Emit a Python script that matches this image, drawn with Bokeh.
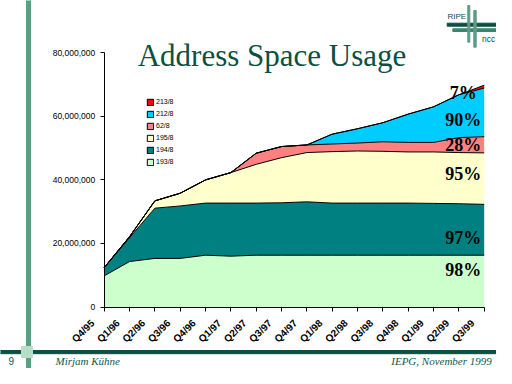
import math
from bokeh.plotting import figure
from bokeh.models import Range1d, FixedTicker, NumeralTickFormatter, Legend, LegendItem, ColumnDataSource
from bokeh.core.properties import value
from bokeh.embed import file_html
from bokeh.resources import INLINE

# ---------------- data ----------------
quarters = ["Q4/95", "Q1/96", "Q2/96", "Q3/96", "Q4/96", "Q1/97", "Q2/97", "Q3/97",
            "Q4/97", "Q1/98", "Q2/98", "Q3/98", "Q4/98", "Q1/99", "Q2/99", "Q3/99"]
net193 = [9800000, 14300000, 15300000, 15300000, 16300000, 16000000, 16300000, 16300000,
          16300000, 16300000, 16300000, 16300000, 16300000, 16300000, 16300000, 16300000]
net194 = [2600000, 7500000, 15800000, 16500000, 16400000, 16700000, 16400000, 16500000,
          16800000, 16400000, 16400000, 16400000, 16400000, 16300000, 16200000, 16000000]
net195 = [0, 300000, 2300000, 4000000, 7300000, 9600000, 12200000, 14200000,
          15500000, 16200000, 16400000, 16300000, 16100000, 16200000, 16100000, 16200000]
net62 = [0, 0, 0, 0, 0, 0, 3500000, 3500000,
         2400000, 2400000, 2500000, 3000000, 3000000, 3000000, 4700000, 5100000]
net212 = [0, 0, 0, 0, 0, 0, 0, 0,
          0, 3100000, 4500000, 6000000, 8900000, 11200000, 13500000, 15300000]
net213 = [0, 0, 0, 0, 0, 0, 0, 0,
          0, 0, 0, 0, 0, 0, 0, 900000]
series_names = ["193/8", "194/8", "195/8", "62/8", "212/8", "213/8"]
series_colors = ["#CCFFCC", "#008080", "#FFFFCC", "#FF8080", "#00CCFF", "#FF0000"]
pct_labels = ["98%", "97%", "95%", "28%", "90%", "7%"]
pct_y = [11800000, 21700000, 41700000, 51000000, 59000000, 67500000]
y_ticks = [0, 20000000, 40000000, 60000000, 80000000]

# ---------------- layout ----------------
W, H = 496, 368
X0, X1 = 103.7, 483.7     # canvas px of first / last category
Y0, YT = 306.5, 52.3      # canvas px of 0 and of top tick
n = len(quarters)
ymax = y_ticks[-1]
ppx = (X1 - X0) / (n - 1)
ppy = (Y0 - YT) / ymax

p = figure(width=W, height=H, output_backend="svg", toolbar_location=None,
           x_range=Range1d(-X0 / ppx, (n - 1) + (W - X1) / ppx),
           y_range=Range1d(-(H - Y0) / ppy, ymax + YT / ppy),
           min_border=0)
p.min_border_left = p.min_border_right = p.min_border_top = p.min_border_bottom = 0
p.outline_line_color = None
p.grid.visible = False
p.background_fill_color = "white"
p.border_fill_color = "white"
p.extra_x_ranges = {"px": Range1d(0, W)}
p.extra_y_ranges = {"py": Range1d(H, 0)}

GREEN_D = "#0B5042"
GREEN_M = "#5E9C86"
GREEN_L = "#B5E0C6"
TEXT_G = "#0B5A4E"

# slide decorations
p.quad(left=[26], right=[30], top=[-10], bottom=[H + 10], color=GREEN_M, x_range_name="px", y_range_name="py")
p.quad(left=[-5], right=[W + 5], top=[350], bottom=[353.2], color=GREEN_D, x_range_name="px", y_range_name="py")
p.quad(left=[21], right=[32], top=[346], bottom=[357], color=GREEN_L, x_range_name="px", y_range_name="py")
# logo
p.quad(left=[446.7], right=[497.3], top=[22.7], bottom=[25.7], color=GREEN_D, x_range_name="px", y_range_name="py")
p.quad(left=[452.3], right=[502.3], top=[28.3], bottom=[31.0], color="#3F8470", x_range_name="px", y_range_name="py")
p.quad(left=[467.3], right=[469.3], top=[5], bottom=[41.7], color=GREEN_M, x_range_name="px", y_range_name="py")
p.quad(left=[473.3], right=[475.7], top=[10], bottom=[46.7], color=GREEN_M, x_range_name="px", y_range_name="py")
p.text(x=[447], y=[16], text=["RIPE"], x_range_name="px", y_range_name="py",
       text_font=value("Liberation Sans"), text_font_size="8px", text_color=GREEN_D,
       text_baseline="middle", text_align="left")
p.text(x=[481.5], y=[38.3], text=["ncc"], x_range_name="px", y_range_name="py",
       text_font=value("Liberation Sans"), text_font_size="8.5px", text_color=GREEN_D,
       text_baseline="middle", text_align="left")
# title
p.text(x=[271.5], y=[54.5], text=["Address Space Usage"], x_range_name="px", y_range_name="py",
       text_font=value("Liberation Serif"), text_font_size="31px", text_color=GREEN_D,
       text_baseline="middle", text_align="center")
# footer
p.text(x=[8], y=[360.5], text=["9"], x_range_name="px", y_range_name="py",
       text_font=value("Liberation Sans"), text_font_size="10px", text_color=TEXT_G,
       text_baseline="middle", text_align="left")
p.text(x=[55], y=[360.5], text=["Mirjam Kühne"], x_range_name="px", y_range_name="py",
       text_font=value("Liberation Serif"), text_font_size="11px", text_font_style="italic",
       text_color=TEXT_G, text_baseline="middle", text_align="left")
p.text(x=[494], y=[360.5], text=["IEPG,  November 1999"], x_range_name="px", y_range_name="py",
       text_font=value("Liberation Serif"), text_font_size="11px", text_font_style="italic",
       text_color=TEXT_G, text_baseline="middle", text_align="right")

# ---------------- chart ----------------
src = ColumnDataSource(dict(x=list(range(n)), s193=net193, s194=net194, s195=net195,
                            s62=net62, s212=net212, s213=net213))
stack_cols = ["s193", "s194", "s195", "s62", "s212", "s213"]
p.varea_stack(stackers=stack_cols, x="x", color=series_colors, source=src)
p.vline_stack(stackers=stack_cols, x="x", color="black", line_width=1, source=src)

p.text(x=[n - 1] * len(pct_labels), y=pct_y, text=pct_labels, x_offset=-21,
       text_font=value("Liberation Serif"), text_font_style="bold", text_font_size="18px",
       text_color="black", text_align="center", text_baseline="middle")

# category labels, rotated 45 degrees, placed at each category tick
p.text(x=list(range(n)), y=[0] * n, text=quarters, angle=math.pi / 4,
       x_offset=-11.5, y_offset=14.3,
       text_font=value("Liberation Sans"), text_font_style="bold", text_font_size="10px",
       text_color="black", text_align="right", text_baseline="middle")

# legend (swatches with black border; the swatch glyphs sit off-canvas)
items = []
for name, col in zip(series_names, series_colors):
    r = p.quad(left=[-1000], right=[-990], top=[-1000], bottom=[-990], fill_color=col,
               line_color="black", line_width=1, x_range_name="px", y_range_name="py")
    items.append(LegendItem(label=name, renderers=[r]))
items.reverse()
legend = Legend(items=items, location=(146, 202.5), orientation="vertical",
                glyph_width=8, glyph_height=8, label_height=8, label_width=10,
                spacing=4, padding=0, margin=0, label_standoff=2,
                label_text_font="Liberation Sans", label_text_font_size="7px",
                label_text_color="black", border_line_color=None, background_fill_alpha=0)
p.add_layout(legend)

# axes
p.xaxis.fixed_location = 0
p.yaxis.fixed_location = 0
p.xaxis.bounds = (0, n - 1)
p.yaxis.bounds = (0, ymax)
p.xaxis.ticker = FixedTicker(ticks=list(range(n)))
p.xaxis.major_label_overrides = {i: "" for i in range(n)}
p.yaxis.ticker = FixedTicker(ticks=y_ticks)
p.yaxis.formatter = NumeralTickFormatter(format="0,0")
for ax in (p.xaxis, p.yaxis):
    ax.axis_line_color = "black"
    ax.axis_line_width = 1
    ax.major_tick_line_color = "black"
    ax.major_tick_in = 0
    ax.major_tick_out = 4
    ax.minor_tick_line_color = None
    ax.major_label_text_color = "black"
    ax.major_label_text_font = "Liberation Sans"
p.yaxis.major_label_text_font_size = "8.5px"
p.yaxis.major_label_standoff = 5

open("out.html", "w").write(file_html(p, INLINE))
